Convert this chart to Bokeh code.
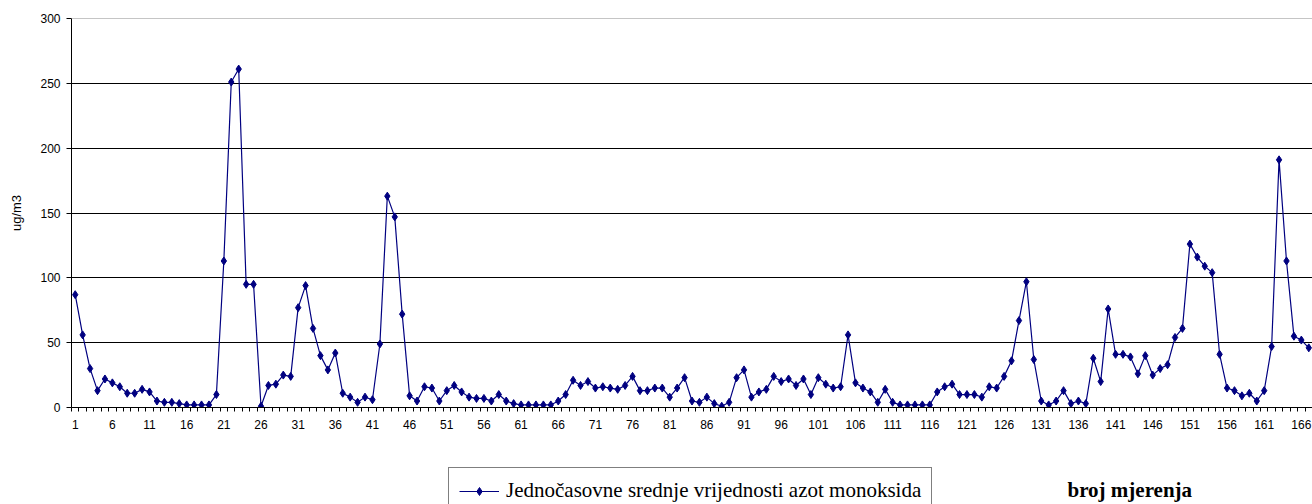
from bokeh.plotting import figure
from bokeh.layouts import column
from bokeh.models import FixedTicker, Legend, LegendItem, Label, Span, Range1d
from bokeh.embed import file_html
from bokeh.resources import INLINE

# ---- data ----
measurement = list(range(1, 168))
no_values = [
    87, 56, 30, 13, 22, 19, 16, 11, 11, 14,
    12, 5, 4, 4, 3, 2, 2, 2, 2, 10,
    113, 251, 261, 95, 95, 1, 17, 18, 25, 24,
    77, 94, 61, 40, 29, 42, 11, 8, 4, 8,
    6, 49, 163, 147, 72, 9, 5, 16, 15, 5,
    13, 17, 12, 8, 7, 7, 5, 10, 5, 3,
    2, 2, 2, 2, 2, 5, 10, 21, 17, 20,
    15, 16, 15, 14, 17, 24, 13, 13, 15, 15,
    8, 15, 23, 5, 4, 8, 3, 1, 4, 23,
    29, 8, 12, 14, 24, 20, 22, 17, 22, 10,
    23, 18, 15, 16, 56, 19, 15, 12, 4, 14,
    4, 2, 2, 2, 2, 2, 12, 16, 18, 10,
    10, 10, 8, 16, 15, 24, 36, 67, 97, 37,
    5, 2, 5, 13, 3, 5, 3, 38, 20, 76,
    41, 41, 39, 26, 40, 25, 30, 33, 54, 61,
    126, 116, 109, 104, 41, 15, 13, 9, 11, 5,
    13, 47, 191, 113, 55, 52, 46,
]
x_tick_labels = list(range(1, 167, 5))
y_ticks = [0, 50, 100, 150, 200, 250, 300]
grid_values = [50, 100, 150, 200, 250]
series_name = "Jednočasovne srednje vrijednosti azot monoksida"
y_title = "ug/m3"
x_title = "broj mjerenja"

NAVY = "#000080"
W = 1312
LEFT = 71

p = figure(width=W, height=440, output_backend="svg", toolbar_location=None,
           x_range=Range1d(0.5, 167.5), y_range=Range1d(0, 300),
           min_border_left=LEFT, min_border_right=0, min_border_top=18,
           min_border_bottom=33)
p.outline_line_color = None
p.background_fill_color = "white"
p.border_fill_color = "white"

# grid
p.xgrid.visible = False
p.ygrid.ticker = FixedTicker(ticks=grid_values)
p.ygrid.grid_line_color = "black"
p.ygrid.grid_line_width = 1
p.add_layout(Span(location=300, dimension="width", line_color="#8c8c8c", line_width=1))

# x axis
p.xaxis.ticker = FixedTicker(ticks=x_tick_labels,
                             minor_ticks=[i + 0.5 for i in range(0, 168)])
p.xaxis.major_tick_out = 0
p.xaxis.major_tick_in = 0
p.xaxis.minor_tick_out = 4
p.xaxis.minor_tick_in = 0
p.xaxis.minor_tick_line_color = "black"
p.xaxis.axis_line_color = "black"
p.xaxis.major_label_standoff = 8
p.xaxis.major_label_text_font = "Liberation Sans"
p.xaxis.major_label_text_font_size = "12px"
p.xaxis.major_label_text_color = "black"

# y axis
p.yaxis.ticker = FixedTicker(ticks=y_ticks)
p.yaxis.major_tick_out = 5
p.yaxis.major_tick_in = 0
p.yaxis.minor_tick_out = 0
p.yaxis.minor_tick_in = 0
p.yaxis.axis_line_color = "black"
p.yaxis.major_tick_line_color = "black"
p.yaxis.major_label_standoff = 6
p.yaxis.major_label_text_font = "Liberation Sans"
p.yaxis.major_label_text_font_size = "12px"
p.yaxis.major_label_text_color = "black"
p.yaxis.axis_label = y_title
p.yaxis.axis_label_standoff = 13
p.yaxis.axis_label_text_font = "Liberation Sans"
p.yaxis.axis_label_text_font_size = "13px"
p.yaxis.axis_label_text_font_style = "normal"
p.yaxis.axis_label_text_color = "black"

# series
p.line(measurement, no_values, line_color=NAVY, line_width=1.2)
p.scatter(measurement, no_values, marker="diamond", size=8,
          fill_color=NAVY, line_color=NAVY)

# ---- bottom strip: legend + x title (frame aligned with main plot) ----
b = figure(width=W, height=64, output_backend="svg", toolbar_location=None,
           x_range=Range1d(-3, -2), y_range=Range1d(-3, -2),
           x_axis_location=None, y_axis_location=None,
           min_border_left=LEFT, min_border_right=0, min_border_top=0,
           min_border_bottom=0)
b.outline_line_color = None
b.xgrid.visible = False
b.ygrid.visible = False
b.background_fill_color = "white"
b.border_fill_color = "white"

# same series, drawn out of view here: only used for the legend sample
lg_line = b.line(measurement, no_values, line_color=NAVY, line_width=1.2)
lg_mark = b.scatter(measurement, no_values, marker="diamond", size=7,
                    fill_color=NAVY, line_color=NAVY)

legend = Legend(items=[LegendItem(label=series_name, renderers=[lg_line, lg_mark])],
                location=(448 - LEFT, -10), border_line_color="black", border_line_width=1,
                padding=10, margin=0, glyph_width=40, glyph_height=20,
                label_standoff=7, label_text_font="Liberation Serif",
                label_text_font_size="21px", label_text_color="black",
                background_fill_color="white", background_fill_alpha=1)
b.add_layout(legend)

b.add_layout(Label(x=1067 - LEFT, y=15, x_units="screen", y_units="screen", text=x_title,
                   text_font="Liberation Serif", text_font_style="bold",
                   text_font_size="21px", text_baseline="middle", text_align="left",
                   text_color="black"))

layout = column(p, b, spacing=0)
open("out.html", "w").write(file_html(layout, INLINE))
